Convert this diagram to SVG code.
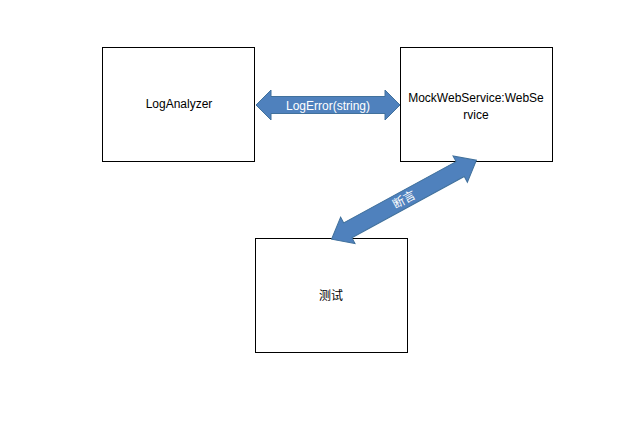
<svg xmlns="http://www.w3.org/2000/svg" width="625" height="426" viewBox="0 0 625 426">
<style>
.box{fill:#fff;stroke:#000;stroke-width:1}
.t{font-family:"Liberation Sans","Noto Sans CJK SC",sans-serif;font-size:12px;fill:#000;text-anchor:middle}
.arrow{fill:#4F81BD;stroke:#41719C;stroke-width:1}
.at{font-family:"Liberation Sans","Noto Sans CJK SC",sans-serif;font-size:12px;fill:#fff;text-anchor:middle}
</style>
<rect width="625" height="426" fill="#fff"/>
<g id="LogAnalyzer">
<rect class="box" x="102.5" y="47.5" width="152" height="114"/>
<text class="t" x="179" y="108">LogAnalyzer</text>
</g>
<g id="MockWebService">
<rect class="box" x="400.5" y="47.5" width="152" height="114"/>
<text class="t" x="476" y="102">MockWebService:WebSe</text>
<text class="t" x="476" y="119">rvice</text>
</g>
<g id="test">
<rect class="box" x="255.5" y="238.5" width="152" height="114"/>
<text class="t" x="331" y="300">测试</text>
</g>
<g id="connectors">
<path class="arrow" d="M256 105 L271 90 L271 96.5 L385 96.5 L385 90 L400 105 L385 120 L385 113.5 L271 113.5 L271 120 Z"/>
<text class="at" x="328" y="109.5">LogError(string)</text>
<g transform="translate(404 199.7) rotate(-28.6)">
<path class="arrow" d="M-82.5 0 L-64 -15 L-64 -8.5 L64 -8.5 L64 -15 L82.5 0 L64 15 L64 8.5 L-64 8.5 L-64 15 Z"/>
<text class="at" x="0" y="4">断言</text>
</g>
</g>
</svg>
